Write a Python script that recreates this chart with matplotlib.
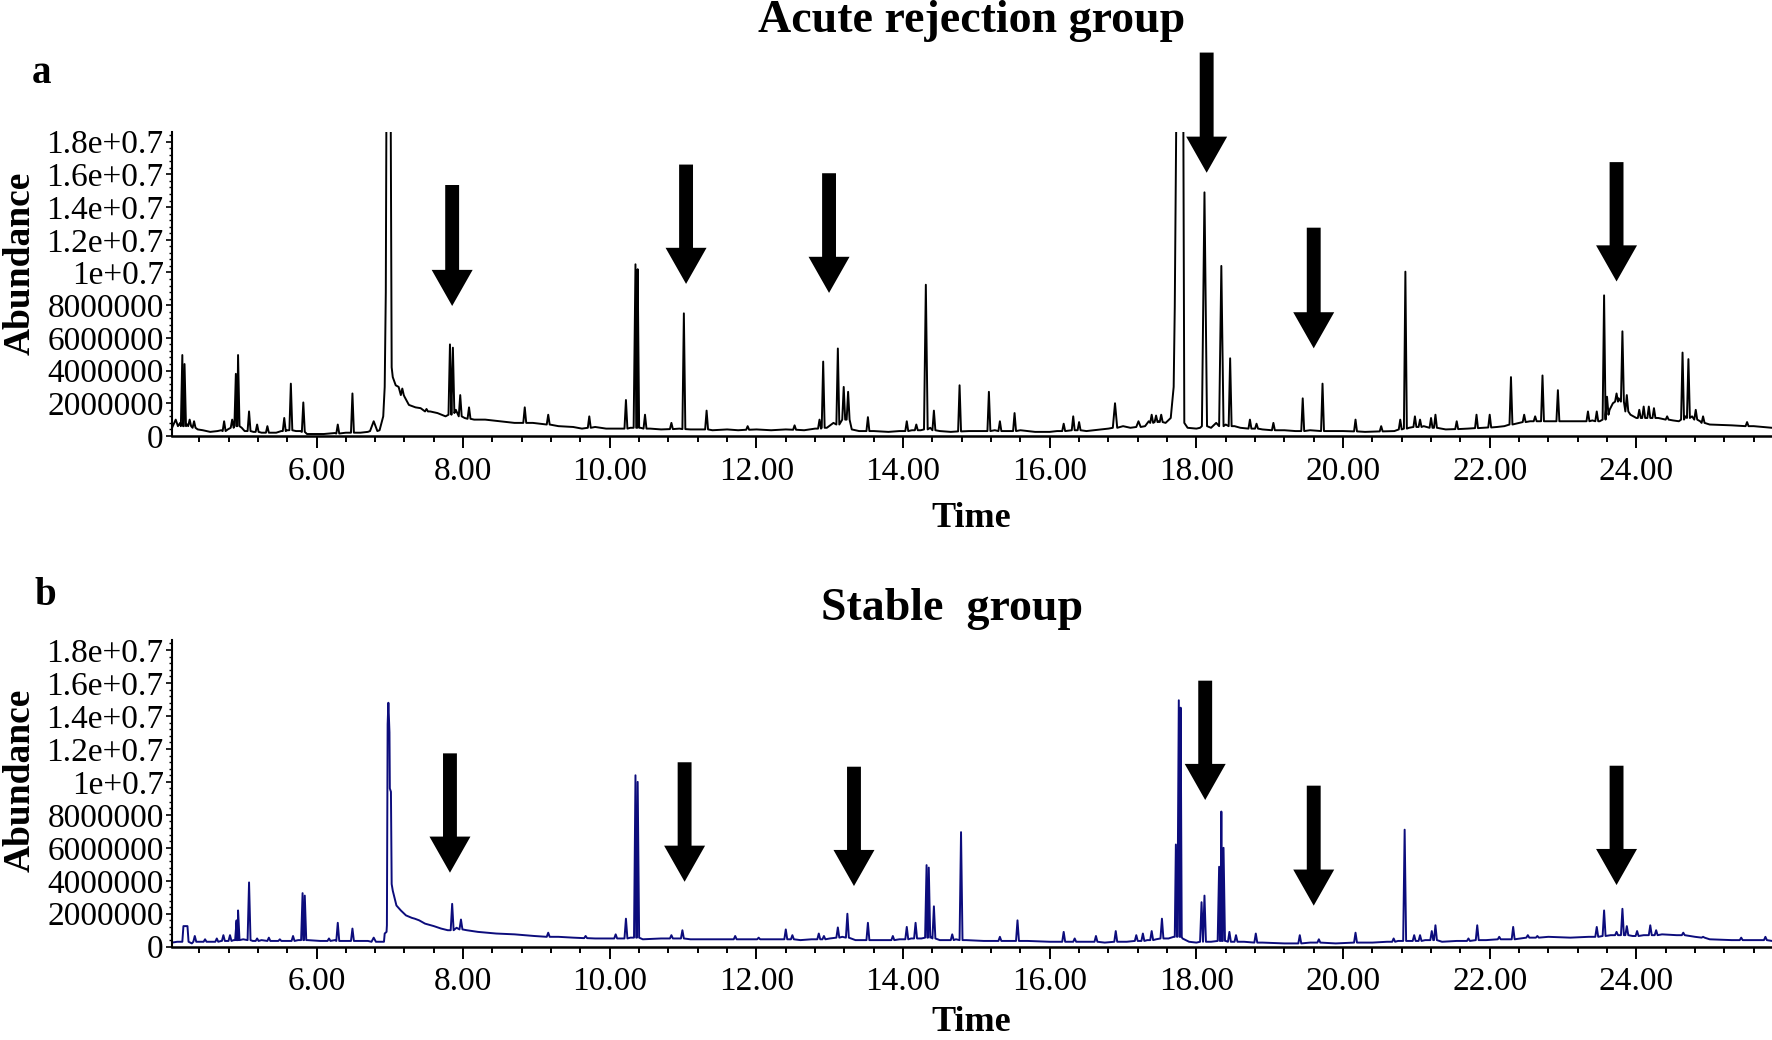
import numpy as np
import matplotlib.pyplot as plt
from matplotlib.ticker import MultipleLocator, FixedLocator

plt.rcParams['font.family'] = ['Liberation Serif', 'DejaVu Serif']

# ---- data (abundances in millions) ----
# panel a: smooth part of the trace (time, abundance)
prof_a_t = [4.03, 4.08, 4.11, 4.14, 4.24, 4.30, 4.38, 4.45, 4.55, 4.65, 4.70, 4.79, 4.88, 4.98,
            5.02, 5.14, 5.25, 5.45, 5.52, 5.60, 5.72, 5.78, 5.87, 6.10, 6.25, 6.40, 6.60, 6.70,
            6.86, 6.91, 6.93, 6.945, 6.955, 7.01, 7.025, 7.04, 7.08, 7.12, 7.20, 7.26, 7.35, 7.42,
            7.55, 7.65, 7.76, 7.80, 7.90, 8.02, 8.15, 8.30, 8.50, 8.70, 8.95, 9.05, 9.30, 9.50,
            9.62, 9.80, 9.95, 10.15, 10.28, 10.42, 10.55, 10.70, 10.95, 11.10, 11.25, 11.40, 11.60,
            11.75, 12.00, 12.20, 12.40, 12.65, 12.80, 12.96, 13.05, 13.30, 13.40, 13.60, 13.80,
            13.95, 14.12, 14.24, 14.37, 14.50, 14.65, 14.90, 15.05, 15.25, 15.42, 15.60, 15.80,
            16.00, 16.10, 16.50, 16.70, 16.80, 17.00, 17.10, 17.30, 17.35, 17.48, 17.58, 17.65,
            17.69, 17.705, 17.73, 17.82, 17.835, 17.88, 18.00, 18.05, 18.20, 18.27, 18.40, 18.52,
            18.60, 18.90, 19.20, 19.35, 19.55, 19.85, 20.00, 20.30, 20.70, 20.90, 21.10, 21.40,
            21.70, 21.90, 22.10, 22.20, 22.40, 22.55, 22.85, 23.05, 23.25, 23.40, 23.50, 23.635,
            23.68, 23.76, 23.84, 23.92, 24.00, 24.30, 24.50, 24.58, 24.67, 24.76, 24.87, 25.00,
            25.30, 25.60, 25.85]
prof_a_y = [0.5, 1.0, 0.6, 0.8, 0.7, 0.55, 0.4, 0.35, 0.25, 0.3, 0.35, 0.4, 0.6, 0.5,
            0.3, 0.25, 0.2, 0.2, 0.3, 0.35, 0.3, 0.3, 0.12, 0.12, 0.18, 0.2, 0.2, 0.25,
            0.35, 1.2, 3.0, 8.8, 22.0, 22.0, 4.2, 3.6, 3.1, 3.0, 2.4, 1.9, 1.75, 1.7,
            1.5, 1.4, 1.2, 1.3, 1.6, 1.1, 1.0, 1.0, 0.9, 0.8, 0.8, 0.75, 0.6, 0.55,
            0.45, 0.55, 0.45, 0.45, 0.5, 0.5, 0.45, 0.4, 0.45, 0.4, 0.4, 0.35, 0.4,
            0.35, 0.4, 0.35, 0.4, 0.35, 0.45, 0.5, 0.8, 0.4, 0.3, 0.3, 0.25,
            0.3, 0.35, 0.35, 0.5, 0.3, 0.25, 0.3, 0.3, 0.35, 0.3, 0.35, 0.25,
            0.25, 0.3, 0.3, 0.4, 0.45, 0.6, 0.5, 0.6, 0.9, 0.9, 0.8, 1.1,
            3.0, 7.9, 22.0, 22.0, 0.8, 0.5, 0.45, 0.5, 0.5, 0.8, 0.7, 0.6,
            0.5, 0.4, 0.35, 0.3, 0.35, 0.3, 0.3, 0.25, 0.3, 0.5, 0.6, 0.4,
            0.45, 0.5, 0.55, 0.6, 0.8, 0.9, 0.9, 0.9, 0.9, 0.95, 0.9, 1.6,
            2.0, 2.3, 1.8, 1.3, 1.1, 1.1, 0.95, 0.9, 1.2, 1.2, 0.9, 0.7,
            0.65, 0.6, 0.5]

# panel a: peaks (apex time, apex height, foot level)
pk_a_t = [4.17, 4.20, 4.27, 4.33, 4.74, 4.85, 4.90, 4.93, 5.08, 5.19, 5.33, 5.56, 5.65, 5.82,
          6.29, 6.49, 6.78, 7.17, 7.50, 7.82, 7.86, 7.96, 8.08, 8.84, 9.16, 9.72, 10.22, 10.35,
          10.38, 10.48, 10.84, 11.01, 11.32, 11.88, 12.52, 12.86, 12.91, 13.11, 13.19, 13.25,
          13.52, 14.05, 14.18, 14.31, 14.42, 14.77, 15.17, 15.32, 15.52, 16.19, 16.32, 16.40,
          16.89, 17.21, 17.39, 17.45, 17.52, 18.11, 18.34, 18.46, 18.73, 18.82, 19.05, 19.45,
          19.72, 20.17, 20.52, 20.78, 20.85, 20.98, 21.05, 21.20, 21.26, 21.55, 21.82, 22.00,
          22.29, 22.47, 22.62, 22.72, 22.93, 23.34, 23.46, 23.56, 23.60, 23.73, 23.81, 23.87,
          24.04, 24.10, 24.17, 24.24, 24.42, 24.63, 24.71, 24.81, 24.91, 25.51]
pk_a_h = [4.95, 4.4, 1.0, 0.9, 0.9, 1.0, 3.8, 4.95, 1.5, 0.7, 0.6, 1.1, 3.2, 2.05,
          0.7, 2.6, 0.9, 2.9, 1.65, 5.6, 5.4, 2.5, 1.75, 1.75, 1.3, 1.2, 2.2, 10.5,
          10.2, 1.3, 0.8, 7.5, 1.55, 0.6, 0.65, 1.0, 4.55, 5.35, 3.0, 2.7,
          1.15, 0.9, 0.7, 9.25, 1.55, 3.1, 2.7, 0.9, 1.4, 0.75, 1.2, 0.85,
          2.0, 0.9, 1.3, 1.25, 1.3, 14.9, 10.4, 4.75, 1.0, 0.75, 0.8, 2.3,
          3.2, 1.0, 0.6, 1.0, 10.05, 1.2, 1.0, 1.1, 1.3, 0.9, 1.3, 1.3,
          3.6, 1.3, 1.2, 3.7, 2.8, 1.5, 1.5, 8.6, 2.4, 2.6, 6.4, 2.5,
          1.6, 1.8, 1.8, 1.7, 1.2, 5.1, 4.7, 1.6, 1.2, 0.85]
pk_a_f = [0.6, 0.6, 0.6, 0.5, 0.3, 0.5, 0.6, 0.6, 0.3, 0.25, 0.2, 0.3, 0.35, 0.25,
          0.15, 0.2, 0.3, 2.5, 1.5, 1.3, 1.4, 1.2, 1.05, 0.8, 0.7, 0.5, 0.45, 0.5,
          0.5, 0.45, 0.42, 0.42, 0.4, 0.38, 0.38, 0.45, 0.5, 0.7, 1.0, 1.0,
          0.3, 0.3, 0.35, 0.4, 0.35, 0.28, 0.3, 0.3, 0.3, 0.3, 0.35, 0.35,
          0.5, 0.55, 0.8, 0.85, 0.85, 0.6, 0.6, 0.6, 0.45, 0.45, 0.35, 0.3,
          0.3, 0.28, 0.28, 0.4, 0.45, 0.55, 0.55, 0.5, 0.5, 0.42, 0.48, 0.52,
          0.7, 0.85, 0.9, 0.9, 0.9, 0.9, 0.9, 1.0, 1.3, 2.1, 2.1, 1.5,
          1.1, 1.1, 1.1, 1.1, 1.0, 1.0, 1.1, 1.0, 0.8, 0.6]
wide_a = {6.78: 0.05, 10.35: 0.025, 14.31: 0.025, 16.89: 0.03, 17.21: 0.03,
          18.11: 0.035, 18.34: 0.03}

# panel b
prof_b_t = [4.03, 4.10, 4.17, 4.185, 4.24, 4.255, 4.30, 4.40, 4.55, 4.70, 4.78, 4.87, 5.00,
            5.13, 5.25, 5.45, 5.60, 5.75, 5.88, 6.05, 6.25, 6.40, 6.60, 6.70, 6.88, 6.92,
            6.93, 6.955, 6.96, 6.97, 6.98, 6.995, 7.00, 7.015, 7.025, 7.04, 7.09, 7.15, 7.22,
            7.30, 7.34, 7.40, 7.48, 7.60, 7.70, 7.79, 7.91, 8.05, 8.20, 8.45, 8.70, 8.97,
            9.30, 9.50, 9.80, 10.00, 10.15, 10.28, 10.45, 10.70, 10.92, 11.10, 11.40, 11.90,
            12.20, 12.60, 12.75, 13.00, 13.17, 13.35, 13.70, 13.95, 14.11, 14.25, 14.39,
            14.50, 14.60, 14.72, 14.86, 15.10, 15.45, 15.70, 16.00, 16.45, 16.75, 17.05,
            17.33, 17.45, 17.62, 17.69, 17.81, 17.90, 18.00, 18.20, 18.40, 18.50, 18.65,
            18.90, 19.20, 19.55, 19.90, 20.40, 20.60, 20.75, 20.90, 21.12, 21.35, 21.55,
            21.95, 22.22, 22.42, 22.60, 22.80, 23.10, 23.35, 23.65, 23.95, 24.10, 24.35,
            24.55, 24.80, 25.00, 25.30, 25.60, 25.85]
prof_b_y = [0.25, 0.3, 0.3, 1.25, 1.25, 0.3, 0.2, 0.3, 0.3, 0.35, 0.35, 0.4, 0.45,
            0.35, 0.4, 0.35, 0.35, 0.4, 0.4, 0.35, 0.4, 0.35, 0.35, 0.35, 0.3, 0.3,
            0.8, 0.9, 1.3, 13.5, 14.8, 13.0, 9.6, 9.4, 3.8, 3.4, 2.5, 2.2, 1.9,
            1.75, 1.7, 1.6, 1.4, 1.25, 1.1, 1.0, 1.15, 1.0, 0.9, 0.8, 0.75, 0.65,
            0.6, 0.55, 0.5, 0.5, 0.5, 0.55, 0.45, 0.5, 0.5, 0.45, 0.45, 0.45,
            0.45, 0.4, 0.45, 0.5, 0.6, 0.4, 0.4, 0.45, 0.5, 0.5, 0.6,
            0.4, 0.4, 0.45, 0.4, 0.35, 0.35, 0.35, 0.3, 0.3, 0.25, 0.3,
            0.4, 0.45, 0.5, 0.6, 0.5, 0.3, 0.25, 0.3, 0.35, 0.3, 0.3,
            0.25, 0.2, 0.25, 0.2, 0.25, 0.3, 0.35, 0.35, 0.4, 0.3, 0.35,
            0.4, 0.45, 0.5, 0.55, 0.6, 0.55, 0.6, 0.7, 0.65, 0.7, 0.75,
            0.7, 0.6, 0.45, 0.4, 0.4, 0.35]

pk_b_t = [4.34, 4.48, 4.64, 4.73, 4.82, 4.91, 4.93, 5.08, 5.19, 5.35, 5.50, 5.68, 5.81, 5.84,
          6.17, 6.29, 6.49, 6.78, 7.85, 7.97, 9.16, 9.67, 10.08, 10.22, 10.35, 10.38, 10.84,
          10.99, 11.71, 12.03, 12.40, 12.49, 12.85, 12.92, 13.11, 13.24, 13.52, 13.86, 14.05,
          14.17, 14.32, 14.35, 14.42, 14.67, 14.79, 15.32, 15.56, 16.19, 16.34, 16.63, 16.90,
          17.18, 17.27, 17.39, 17.53, 17.72, 17.76, 17.785, 18.07, 18.11, 18.31, 18.34, 18.37,
          18.45, 18.54, 18.81, 19.41, 19.67, 20.17, 20.69, 20.84, 20.97, 21.05, 21.21, 21.26,
          21.71, 21.83, 22.13, 22.32, 22.52, 22.65, 23.46, 23.56, 23.73, 23.81, 23.87, 24.01,
          24.19, 24.27, 24.64, 24.91, 25.43, 25.76]
pk_b_h = [0.65, 0.45, 0.5, 0.7, 0.7, 1.6, 2.2, 3.9, 0.5, 0.55, 0.45, 0.65, 3.25, 3.1,
          0.5, 1.45, 1.1, 0.55, 2.6, 1.65, 0.85, 0.65, 0.75, 1.7, 10.4, 10.0, 0.7,
          1.0, 0.65, 0.55, 1.05, 0.7, 0.8, 0.65, 1.17, 2.0, 1.45, 0.65, 1.2,
          1.45, 4.95, 4.8, 2.45, 0.75, 6.95, 0.6, 1.6, 0.9, 0.5, 0.65, 0.95,
          0.7, 0.8, 0.95, 1.7, 6.2, 14.95, 14.5, 2.7, 3.1, 4.85, 8.2, 6.0,
          0.9, 0.7, 0.8, 0.7, 0.45, 0.85, 0.5, 7.1, 0.7, 0.7, 0.95, 1.3,
          0.5, 1.3, 0.6, 1.2, 0.7, 0.65, 1.2, 2.2, 0.9, 2.3, 1.25, 0.95,
          1.3, 1.0, 0.85, 0.6, 0.55, 0.6]
pk_b_f = [0.3, 0.3, 0.3, 0.35, 0.35, 0.4, 0.4, 0.4, 0.35, 0.35, 0.35, 0.35, 0.4, 0.4,
          0.35, 0.35, 0.35, 0.3, 1.0, 1.05, 0.6, 0.52, 0.5, 0.5, 0.55, 0.55, 0.5,
          0.5, 0.45, 0.45, 0.45, 0.45, 0.45, 0.45, 0.55, 0.55, 0.4, 0.4, 0.45,
          0.5, 0.55, 0.55, 0.5, 0.4, 0.4, 0.35, 0.35, 0.3, 0.3, 0.3, 0.3,
          0.35, 0.35, 0.4, 0.5, 0.6, 0.6, 0.6, 0.3, 0.3, 0.35, 0.35, 0.35,
          0.3, 0.3, 0.25, 0.2, 0.25, 0.25, 0.3, 0.35, 0.35, 0.35, 0.4, 0.4,
          0.35, 0.4, 0.45, 0.45, 0.55, 0.55, 0.6, 0.65, 0.7, 0.7, 0.7, 0.65,
          0.7, 0.7, 0.7, 0.55, 0.4, 0.4]
wide_b = {6.78: 0.03, 17.72: 0.015, 17.785: 0.015}

# arrows (time, tail top, head tip)
arrow_a_t = [7.85, 11.04, 12.99, 18.14, 19.60, 23.73]
arrow_a_top = [15.35, 16.6, 16.07, 23.45, 12.74, 16.75]
arrow_a_tip = [7.95, 9.3, 8.75, 16.1, 5.36, 9.45]
arrow_b_t = [7.82, 11.02, 13.33, 18.12, 19.60, 23.73]
arrow_b_top = [11.73, 11.19, 10.92, 16.14, 9.77, 10.98]
arrow_b_tip = [4.49, 3.94, 3.68, 8.9, 2.49, 3.74]

ytick_vals = [0, 2e6, 4e6, 6e6, 8e6, 1e7, 1.2e7, 1.4e7, 1.6e7, 1.8e7]
ytick_labels = ['0', '2000000', '4000000', '6000000', '8000000',
                '1e+0.7', '1.2e+0.7', '1.4e+0.7', '1.6e+0.7', '1.8e+0.7']


def build_trace(prof_t, prof_y, pk_t, pk_h, pk_f, wide, w0=0.02):
    assert len(prof_t) == len(prof_y)
    assert len(pk_t) == len(pk_h) == len(pk_f)
    t = list(prof_t)
    y = list(prof_y)
    for ti, hi, fi in zip(pk_t, pk_h, pk_f):
        w = wide.get(ti, w0)
        t += [ti - w, ti, ti + w]
        y += [fi, hi, fi]
    t = np.array(t)
    y = np.array(y) * 1e6
    order = np.argsort(t, kind='stable')
    return t[order], y[order]


def style_axes(ax):
    ax.set_xlim(4.03, 25.85)
    ax.set_ylim(0, 1.86e7)
    for s in ['top', 'right']:
        ax.spines[s].set_visible(False)
    ax.spines['left'].set_linewidth(1.5)
    ax.spines['bottom'].set_linewidth(1.8)
    ax.xaxis.set_major_locator(MultipleLocator(2))
    ax.xaxis.set_minor_locator(MultipleLocator(0.4))
    ax.xaxis.set_major_formatter('{x:.2f}')
    ax.yaxis.set_major_locator(FixedLocator(ytick_vals))
    ax.set_yticklabels(ytick_labels)
    ax.yaxis.set_minor_locator(MultipleLocator(4e5))
    ax.tick_params(axis='x', which='major', direction='out', length=8.5, width=1.4,
                   labelsize=24, pad=6)
    ax.tick_params(axis='x', which='minor', direction='out', length=4.3, width=1.4)
    ax.tick_params(axis='y', which='major', direction='out', length=4, width=1.2,
                   labelsize=24, pad=2)
    ax.tick_params(axis='y', which='minor', direction='out', length=2.5, width=1.0)


def draw_arrows(ax, at, atop, atip):
    for t, top, tip in zip(at, atop, atip):
        ax.annotate('', xy=(t, tip * 1e6), xytext=(t, top * 1e6),
                    arrowprops=dict(arrowstyle='simple,head_length=2.6,head_width=2.95,tail_width=1.0',
                                    mutation_scale=10, fc='black', ec='black', lw=0,
                                    shrinkA=0, shrinkB=0),
                    annotation_clip=False)


fig = plt.figure(figsize=(17.72, 10.40), dpi=100)
ax_a = fig.add_axes([0.0971, 0.5808, 0.9029, 0.2924])
ax_b = fig.add_axes([0.0971, 0.0897, 0.9029, 0.2948])

ta, ya = build_trace(prof_a_t, prof_a_y, pk_a_t, pk_a_h, pk_a_f, wide_a)
tb, yb = build_trace(prof_b_t, prof_b_y, pk_b_t, pk_b_h, pk_b_f, wide_b)

ax_a.plot(ta, ya, color='black', lw=1.4)
ax_b.plot(tb, yb, color='#0c0c7c', lw=1.4)

for ax in (ax_a, ax_b):
    style_axes(ax)

draw_arrows(ax_a, arrow_a_t, arrow_a_top, arrow_a_tip)
draw_arrows(ax_b, arrow_b_t, arrow_b_top, arrow_b_tip)

ax_a.set_title('Acute rejection group', fontsize=33, fontweight='bold', y=1.3285, pad=0)
ax_b.set_title('Stable  group', fontsize=33, fontweight='bold', x=0.4875, y=1.0656, pad=0)

ax_a.set_xlabel('Time', fontsize=26, fontweight='bold')
ax_a.xaxis.set_label_coords(0.4994, -0.299)
ax_a.xaxis.label.set_verticalalignment('baseline')
ax_b.set_xlabel('Time', fontsize=26, fontweight='bold')
ax_b.xaxis.set_label_coords(0.4994, -0.2735)
ax_b.xaxis.label.set_verticalalignment('baseline')

ax_a.set_ylabel('Abundance', fontsize=27, fontweight='bold')
ax_a.yaxis.set_label_coords(-0.095, 0.569)
ax_a.yaxis.label.set_verticalalignment('center')
ax_b.set_ylabel('Abundance', fontsize=27, fontweight='bold')
ax_b.yaxis.set_label_coords(-0.095, 0.5437)
ax_b.yaxis.label.set_verticalalignment('center')

fig.text(32 / 1772, 1 - 83 / 1040, 'a', fontsize=28, fontweight='bold', va='baseline')
fig.text(34 / 1772, 1 - 605 / 1040, 'b', fontsize=28, fontweight='bold', va='baseline')

fig.savefig('out.png', dpi=100)
